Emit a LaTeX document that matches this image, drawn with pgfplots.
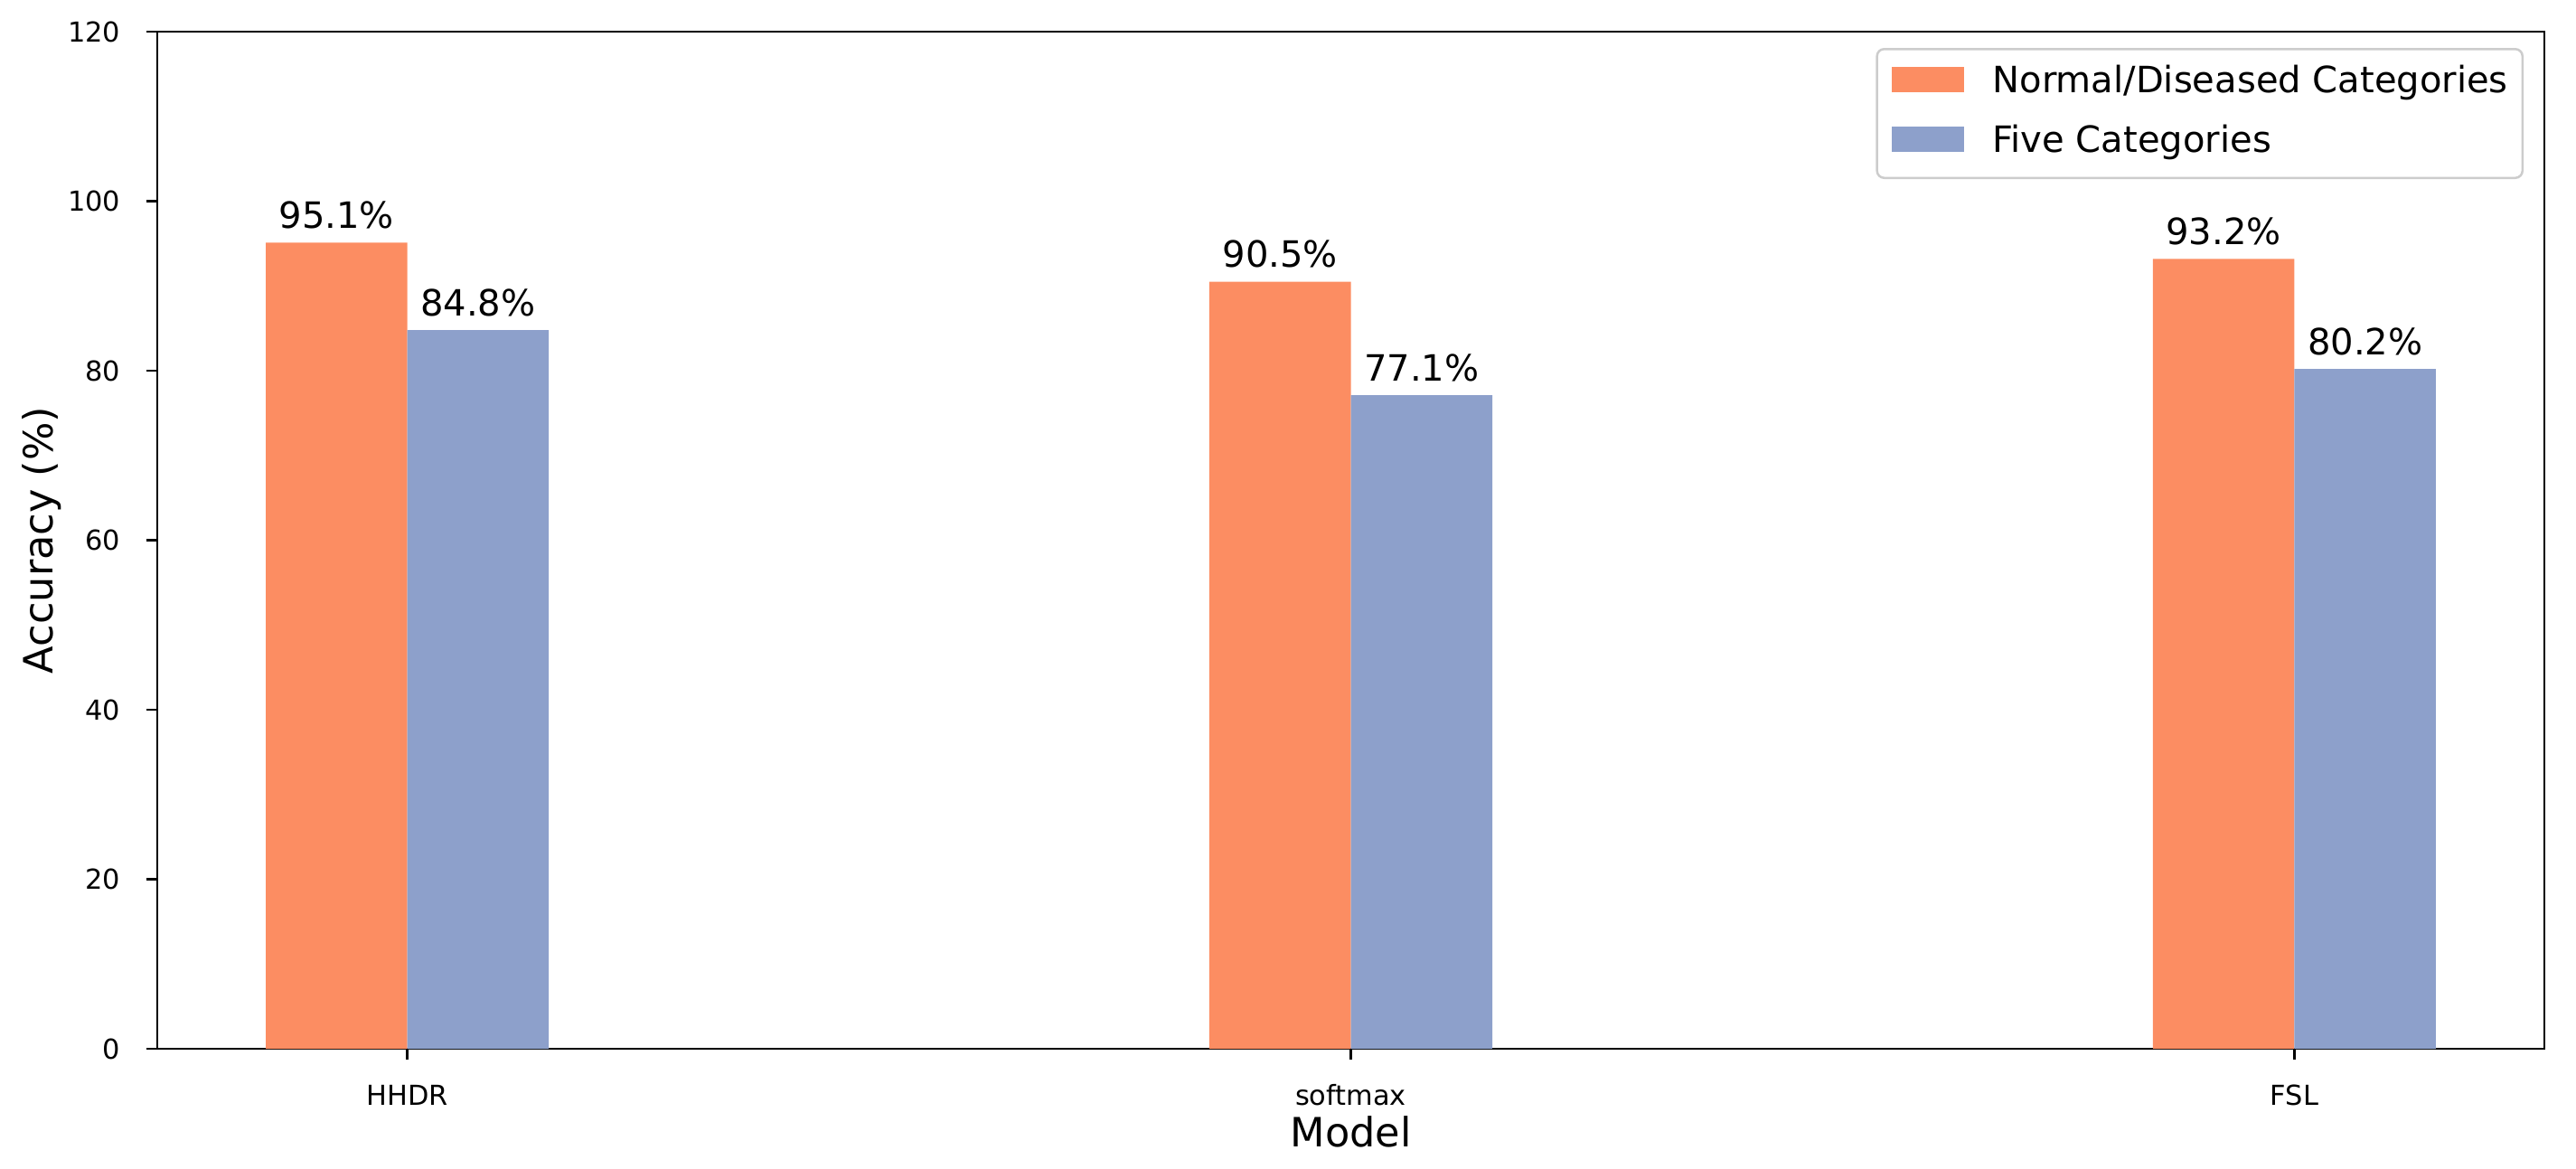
\documentclass[border=0pt]{standalone}
\usepackage{fontspec}
\setmainfont{DejaVu Sans}
\usepackage{pgfplots}
\pgfplotsset{compat=1.18}

\definecolor{setorange}{HTML}{FC8D62}
\definecolor{setblue}{HTML}{8DA0CB}

\newcommand{\tickfont}{\fontsize{8.65}{10}\selectfont}
\newcommand{\labfont}{\fontsize{11.4}{13}\selectfont}
\newcommand{\axfont}{\fontsize{12.7}{15}\selectfont}

\begin{document}
\begin{tikzpicture}
\begin{axis}[
    scale only axis,
    width=264.1mm, height=112.5mm,
    ybar,
    xmin=-0.265, xmax=2.265,
    ymin=0, ymax=120,
    xtick={0,1,2},
    xticklabels={HHDR,softmax,FSL},
    ytick={0,20,...,120},
    /pgf/number format/assume math mode=true,
    tick pos=left,
    tick align=outside,
    major tick length=1.2mm,
    every tick/.style={black, line width=0.25mm},
    axis line style={line width=0.25mm},
    ticklabel style={font=\tickfont},
    yticklabel style={anchor=east, inner sep=0pt, xshift=-2.8mm},
    xticklabel style={anchor=base, inner sep=0pt, yshift=-5.0mm},
    xlabel={Model},
    ylabel={Accuracy (\%)},
    xlabel style={font=\axfont, at={(axis description cs:0.5,-0.096)}, anchor=base, inner sep=0pt},
    ylabel style={font=\axfont, at={(axis description cs:-0.0439,0.5)}, anchor=base, inner sep=0pt},
    legend style={
        at={(axis description cs:0.9913,0.984)}, anchor=north east,
        draw=black!20, line width=0.25mm, rounded corners=0.8mm,
        fill=white, fill opacity=0.8, text opacity=1,
        font=\labfont,
        inner xsep=1.6mm, inner ysep=1.95mm,
        row sep=2.75mm, column sep=3.2mm,
        nodes={inner sep=0pt, text height=2.9mm, text depth=0.9mm},
    },
    legend cell align=left,
    legend image code/.code={\fill[#1, fill opacity=1, sharp corners] (0mm,-0.95mm) rectangle (8mm,1.85mm);},
    nodes near coords={\pgfmathprintnumber[fixed,fixed zerofill,precision=1]{\pgfplotspointmeta}\%},
    every node near coord/.append style={font=\labfont, anchor=base, inner sep=0pt, yshift=1.6mm, black},
]
\addplot[ybar, bar width=0.15, bar shift=-0.075, fill=setorange, draw=none]
    coordinates {(0,95.1) (1,90.5) (2,93.2)};
\addlegendentry{Normal/Diseased Categories}
\addplot[ybar, bar width=0.15, bar shift=0.075, fill=setblue, draw=none]
    coordinates {(0,84.8) (1,77.1) (2,80.2)};
\addlegendentry{Five Categories}
\end{axis}
\pgfresetboundingbox
\path[use as bounding box] (-17.4mm,-13.2mm) rectangle (267.6mm,116mm);
\end{tikzpicture}
\end{document}
